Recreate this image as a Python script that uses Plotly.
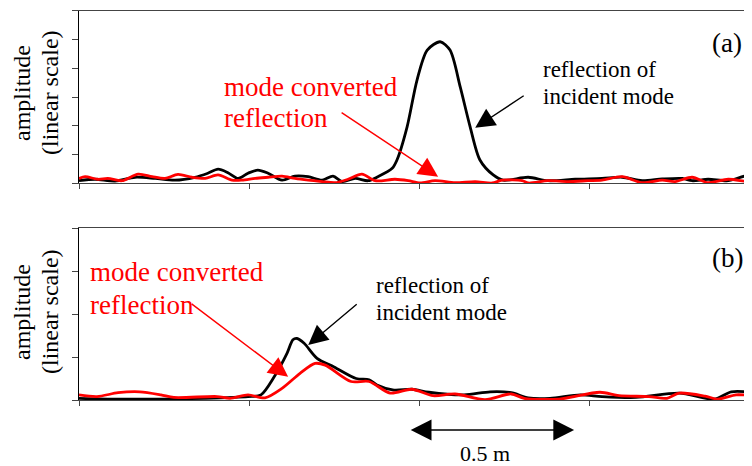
import plotly.graph_objects as go

# ---------------- data (distance in m, amplitude in tick units) ----------------
top_black_x = [0.0, 0.047, 0.106, 0.165, 0.224, 0.282, 0.341, 0.379, 0.409, 0.438, 0.468, 0.497,
               0.526, 0.556, 0.597, 0.635, 0.674, 0.715, 0.747, 0.774, 0.812, 0.85, 0.879, 0.921,
               0.935, 0.965, 0.994, 1.024, 1.062, 1.091, 1.121, 1.15, 1.179, 1.218, 1.247, 1.321,
               1.379, 1.459, 1.538, 1.597, 1.656, 1.715, 1.774, 1.803, 1.85, 1.909, 1.959, 1.979]
top_black_y = [0.09, 0.14, 0.08, 0.21, 0.17, 0.11, 0.21, 0.35, 0.49, 0.37, 0.17, 0.35,
               0.46, 0.35, 0.11, 0.25, 0.23, 0.11, 0.25, 0.06, 0.17, 0.09, 0.23, 0.52,
               0.81, 1.97, 3.59, 4.63, 4.92, 4.63, 3.35, 1.97, 0.81, 0.29, 0.11, 0.21,
               0.09, 0.14, 0.17, 0.21, 0.09, 0.15, 0.17, 0.09, 0.14, 0.09, 0.25, 0.21]

top_red_x = [0.0, 0.018, 0.056, 0.085, 0.126, 0.174, 0.215, 0.253, 0.291, 0.332, 0.371, 0.409,
             0.45, 0.479, 0.518, 0.556, 0.597, 0.635, 0.674, 0.715, 0.753, 0.791, 0.832, 0.871,
             0.929, 0.968, 1.003, 1.047, 1.106, 1.165, 1.215, 1.244, 1.303, 1.321, 1.379, 1.438,
             1.497, 1.538, 1.597, 1.656, 1.715, 1.753, 1.803, 1.85, 1.909, 1.968, 1.979]
top_red_y = [0.17, 0.23, 0.14, 0.17, 0.09, 0.32, 0.23, 0.17, 0.31, 0.21, 0.17, 0.29,
             0.11, 0.11, 0.17, 0.21, 0.25, 0.17, 0.11, 0.06, 0.02, 0.14, 0.32, 0.09,
             0.14, 0.09, 0.01, 0.09, 0.02, 0.06, 0.01, 0.11, 0.09, 0.01, 0.09, 0.06,
             0.09, 0.11, 0.23, 0.02, 0.11, 0.06, 0.21, 0.02, 0.14, 0.06, 0.09]

bot_black_x = [0.0, 0.115, 0.241, 0.371, 0.497, 0.535, 0.574, 0.612, 0.629, 0.641, 0.662, 0.7,
               0.75, 0.815, 0.853, 0.876, 0.926, 0.979, 1.029, 1.132, 1.209, 1.271, 1.321, 1.385,
               1.474, 1.538, 1.638, 1.765, 1.868, 1.918, 1.979]
bot_black_y = [0.04, 0.02, 0.02, 0.04, 0.08, 0.12, 0.54, 1.09, 1.40, 1.43, 1.32, 0.97,
               0.77, 0.50, 0.47, 0.35, 0.23, 0.25, 0.18, 0.12, 0.19, 0.17, 0.05, 0.04,
               0.12, 0.08, 0.06, 0.16, 0.02, 0.19, 0.18]

bot_red_x = [0.0, 0.053, 0.115, 0.179, 0.241, 0.279, 0.406, 0.444, 0.497, 0.547, 0.597, 0.65,
             0.694, 0.724, 0.8, 0.853, 0.915, 0.979, 1.041, 1.106, 1.194, 1.271, 1.309, 1.412,
             1.532, 1.588, 1.676, 1.729, 1.765, 1.841, 1.879, 1.932, 1.979]
bot_red_y = [0.12, 0.08, 0.17, 0.19, 0.12, 0.06, 0.08, 0.04, 0.12, 0.05, 0.27, 0.62,
             0.85, 0.81, 0.43, 0.43, 0.16, 0.25, 0.10, 0.14, 0.01, 0.14, 0.04, 0.02,
             0.18, 0.10, 0.08, 0.04, 0.16, 0.09, 0.02, 0.12, 0.10]

x_ticks = [0, 0.5, 1.0, 1.5]
top_y_ticks = [0, 1, 2, 3, 4, 5, 6]
bot_y_ticks = [0, 1, 2, 3, 4]

y_title = ["amplitude", "(linear scale)"]
red_label = ["mode converted", "reflection"]
black_label = ["reflection of", "incident mode"]
panel_labels = ["(a)", "(b)"]
scale_label = "0.5 m"
scale_start, scale_end = 0.971, 1.456

# ---------------- layout helpers ----------------
OFF = 8                      # page body margin
W, H = 752 - OFF, 466 - OFF  # figure size so that the page fits the window
L = 79 - OFF
FONT = "Liberation Serif, Times New Roman, serif"


def px(x):
    """screen x -> paper x"""
    return (x - OFF - L) / (W - L)


def py(y):
    """screen y -> paper y"""
    return 1 - (y - OFF) / H


fig = go.Figure()
line_kw = dict(width=2.8, shape="spline", smoothing=0.8)
fig.add_trace(go.Scatter(x=top_black_x, y=top_black_y, mode="lines", line=dict(color="black", **line_kw), xaxis="x", yaxis="y"))
fig.add_trace(go.Scatter(x=top_red_x, y=top_red_y, mode="lines", line=dict(color="#ff0000", **line_kw), xaxis="x", yaxis="y"))
fig.add_trace(go.Scatter(x=bot_black_x, y=bot_black_y, mode="lines", line=dict(color="black", **line_kw), xaxis="x2", yaxis="y2"))
fig.add_trace(go.Scatter(x=bot_red_x, y=bot_red_y, mode="lines", line=dict(color="#ff0000", **line_kw), xaxis="x2", yaxis="y2"))

xcommon = dict(domain=[0, 1], range=[0, 1.979], showline=True, mirror=True, linecolor="#444", linewidth=1,
               ticks="outside", ticklen=5, tickcolor="#444", tickvals=x_ticks, showticklabels=False,
               showgrid=False, zeroline=False)
ycommon = dict(showline=True, linecolor="black", linewidth=1, ticks="outside", ticklen=6, tickcolor="#444",
               showticklabels=False, showgrid=False, zeroline=False)

fig.update_layout(
    width=W, height=H, margin=dict(l=L, r=0, t=0, b=0),
    paper_bgcolor="white", plot_bgcolor="white", showlegend=False,
    font=dict(family=FONT, color="black"),
    xaxis=dict(xcommon, anchor="y"),
    yaxis=dict(ycommon, domain=[py(183.3), py(10.7)], range=[0, 6], tickvals=top_y_ticks, anchor="x"),
    xaxis2=dict(xcommon, anchor="y2"),
    yaxis2=dict(ycommon, domain=[py(400), py(228)], range=[0, 4], tickvals=bot_y_ticks, anchor="x2"),
)

ann = []
# y titles
for cy in (93, 312):
    ann.append(dict(xref="paper", yref="paper", x=px(22), y=py(cy), text=y_title[0], textangle=-90,
                    showarrow=False, font=dict(size=24), xanchor="center", yanchor="middle"))
    ann.append(dict(xref="paper", yref="paper", x=px(50), y=py(cy), text=y_title[1], textangle=-90,
                    showarrow=False, font=dict(size=24), xanchor="center", yanchor="middle"))

# red labels
for (lx, y1, y2) in ((222, 87, 118), (88, 272, 305)):
    ann.append(dict(xref="paper", yref="paper", x=px(lx), y=py(y1), text=red_label[0], showarrow=False,
                    font=dict(size=27, color="#ff0000"), xanchor="left", yanchor="middle"))
    ann.append(dict(xref="paper", yref="paper", x=px(lx), y=py(y2), text=red_label[1], showarrow=False,
                    font=dict(size=27, color="#ff0000"), xanchor="left", yanchor="middle"))

# black labels
for (lx, y1, y2) in ((541, 70, 97), (374, 285, 312)):
    ann.append(dict(xref="paper", yref="paper", x=px(lx), y=py(y1), text=black_label[0], showarrow=False,
                    font=dict(size=23), xanchor="left", yanchor="middle"))
    ann.append(dict(xref="paper", yref="paper", x=px(lx), y=py(y2), text=black_label[1], showarrow=False,
                    font=dict(size=23), xanchor="left", yanchor="middle"))

# panel labels
ann.append(dict(xref="paper", yref="paper", x=px(727), y=py(43), text=panel_labels[0], showarrow=False,
                font=dict(size=27), xanchor="center", yanchor="middle"))
ann.append(dict(xref="paper", yref="paper", x=px(727), y=py(258), text=panel_labels[1], showarrow=False,
                font=dict(size=27), xanchor="center", yanchor="middle"))

# arrows (tip at data point, tail offset in pixels)
arrows = [
    ("x", "y", 1.165, 1.93, 50, -33, "black"),
    ("x", "y", 1.056, 0.23, -98, -65, "#ff0000"),
    ("x2", "y2", 0.674, 1.28, 50, -42, "black"),
    ("x2", "y2", 0.615, 0.54, -98, -74, "#ff0000"),
]
for xr, yr, x, y, ax, ay, c in arrows:
    ann.append(dict(xref=xr, yref=yr, x=x, y=y, ax=ax, ay=ay, text="", showarrow=True,
                    arrowhead=2, arrowsize=2.8, arrowwidth=1.4, arrowcolor=c, standoff=0, startstandoff=0))

# scale bar
ann.append(dict(xref="x2", yref="paper", x=scale_end, y=py(430), axref="x2", ayref="pixel",
                ax=scale_start, ay=0, text="", showarrow=True, arrowside="end+start",
                arrowhead=2, arrowsize=2.6, arrowwidth=1.6, arrowcolor="black"))
ann.append(dict(xref="x2", yref="paper", x=(scale_start + scale_end) / 2 - 0.02, y=py(453), text=scale_label,
                showarrow=False, font=dict(size=22), xanchor="center", yanchor="middle"))

fig.update_layout(annotations=ann)
fig.write_html("out.html")
